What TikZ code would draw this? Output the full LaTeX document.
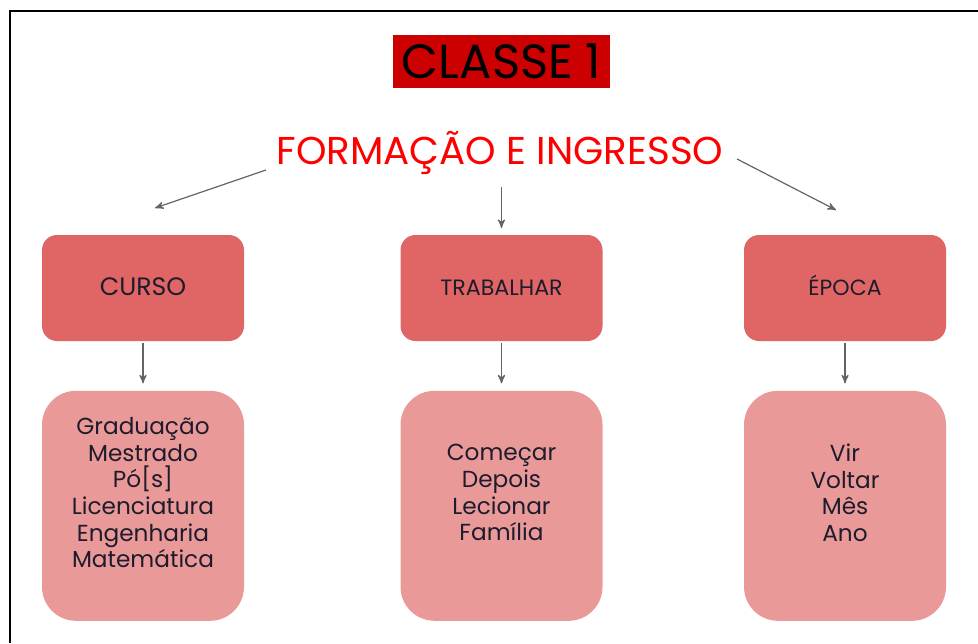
\documentclass[tikz,border=0pt]{standalone}
\usepackage{fontspec}
\setmainfont{Poppins}
\usetikzlibrary{arrows}
\usetikzlibrary{positioning}
\definecolor{T}{RGB}{204,0,0}
\definecolor{S}{RGB}{255,0,0}
\definecolor{H}{RGB}{224,102,102}
\definecolor{P}{RGB}{234,153,153}
\definecolor{K}{RGB}{30,28,44}
\definecolor{Ar}{RGB}{100,100,100}
\tikzstyle{head} = [rounded corners=7.5pt,
fill=H, text=K,
minimum width=101pt,
minimum height=53pt, text centered,
text height=9pt, text depth=2pt]
\tikzstyle{list} = [rounded corners=17pt,
fill=P,
minimum width=101pt,
minimum height=115pt]
\tikzstyle{words} = [align=center, text=K, font=\fontsize{11.6}{13.3}\selectfont]
\tikzstyle{arrow} = [->, draw=Ar, line width=0.6pt]

\begin{document}
\begin{tikzpicture}[
    x=0.5pt, y=-0.5pt,
    >=stealth',
    node distance=24.5pt,
  ]
    \useasboundingbox (0,0) rectangle (978,643);
    \draw[line width=1pt] (9.5,643) -- (9.5,11) -- (978,11);

    \node[fill=T, minimum width=108.5pt, minimum height=26.5pt, inner sep=0pt,
      font=\fontsize{24}{24}\selectfont] (title) at (501.5,61.5) {CLASSE 1};
    \node[text=S, font=\fontsize{19.4}{19.4}\selectfont] (subtitle) at (500,153) {FORMAÇÃO E INGRESSO};

    \node[head, font=\fontsize{12.6}{12}\selectfont] (curso)     at (143,288)   {CURSO};
    \node[head, font=\fontsize{11.1}{12}\selectfont] (trabalhar) at (501.5,288) {TRABALHAR};
    \node[head, font=\fontsize{11}{12}\selectfont]   (epoca)     at (845,288)   {ÉPOCA};

    \node[list, below=of curso]     (cursolist) {};
    \node[list, below=of trabalhar] (trabalharlist) {};
    \node[list, below=of epoca]     (epocalist) {};

    \node[words, yshift=6.5pt] (cursowords) at (cursolist.center)
      {Graduação\\Mestrado\\Pó[s]\\Licenciatura\\Engenharia\\Matemática};
    \node[words, yshift=6.5pt] (trabalharwords) at (trabalharlist.center)
      {Começar\\Depois\\Lecionar\\Família};
    \node[words, yshift=6.5pt] (epocawords) at (epocalist.center)
      {Vir\\Voltar\\Mês\\Ano};

    % ends of the upper arrows
    \coordinate (s1) at (266,170);
    \coordinate (s2) at (501.5,187);
    \coordinate (s3) at (737,159);
    \coordinate (c1) at (155,208);
    \coordinate (c2) at (501.5,228);
    \coordinate (c3) at (836,210);

    \draw[arrow] (s1) -- (c1);
    \draw[arrow] (s2) -- (c2);
    \draw[arrow] (s3) -- (c3);

    \draw[arrow, shorten <=1pt, shorten >=3.5pt] (curso) -- (cursolist);
    \draw[arrow, shorten <=1pt, shorten >=3.5pt] (trabalhar) -- (trabalharlist);
    \draw[arrow, shorten <=1pt, shorten >=3.5pt] (epoca) -- (epocalist);
\end{tikzpicture}
\end{document}
